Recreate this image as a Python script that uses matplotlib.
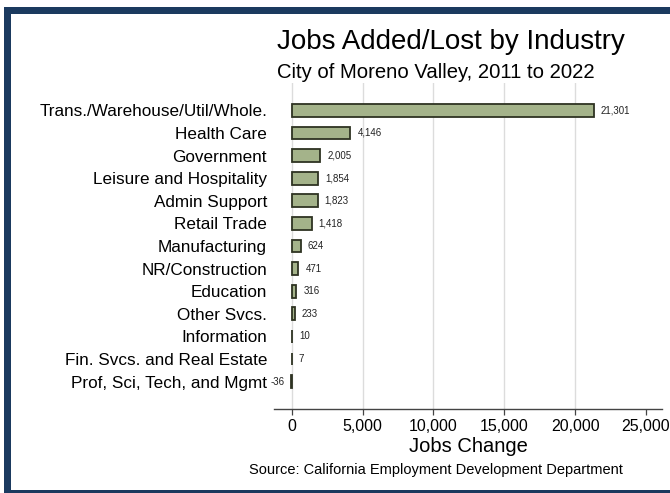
import matplotlib.pyplot as plt
from matplotlib.patches import Rectangle
from matplotlib.ticker import FuncFormatter

plt.rcParams['font.family'] = ['Liberation Sans', 'DejaVu Sans']

INDUSTRIES = [
    "Trans./Warehouse/Util/Whole.",
    "Health Care",
    "Government",
    "Leisure and Hospitality",
    "Admin Support",
    "Retail Trade",
    "Manufacturing",
    "NR/Construction",
    "Education",
    "Other Svcs.",
    "Information",
    "Fin. Svcs. and Real Estate",
    "Prof, Sci, Tech, and Mgmt",
]
JOBS_CHANGE = [21301, 4146, 2005, 1854, 1823, 1418, 624, 471, 316, 233, 10, 7, -36]
X_TICKS = [0, 5000, 10000, 15000, 20000, 25000]

BAR_COLOR = "#a4b38a"
EDGE_COLOR = "#2e3322"
BORDER_COLOR = "#1b3a5f"
GRID_COLOR = "#dcdcdc"

W, H = 670, 493


def px_x(x):
    return x / W


def px_y(y):
    # pixel row from top -> figure fraction from bottom
    return 1 - y / H


fig = plt.figure(figsize=(6.7, 4.93), dpi=100)
ax = fig.add_axes([px_x(274), px_y(409), px_x(662 - 274), (409 - 83) / H])

pos = list(range(len(INDUSTRIES)))
ax.barh(pos, JOBS_CHANGE, height=0.56, color=BAR_COLOR, edgecolor=EDGE_COLOR, linewidth=1.3, zorder=3)

# value labels next to bar ends
for p, v in zip(pos, JOBS_CHANGE):
    off = 7 if v >= 0 else -7
    ax.annotate(f"{v:,}", (v, p), xytext=(off * 0.72, 0), textcoords="offset points",
                ha="left" if v >= 0 else "right", va="center", fontsize=7, color="#222222")

ax.set_yticks(pos)
ax.set_yticklabels(INDUSTRIES, fontsize=12.3)
ax.tick_params(axis="y", length=0, pad=5)
ax.set_ylim(len(INDUSTRIES) - 1 + 1.21, -1.21)

ax.set_xlim(-1250, 26130)
ax.set_xticks(X_TICKS)
ax.xaxis.set_major_formatter(FuncFormatter(lambda v, _: f"{int(v):,}"))
ax.tick_params(axis="x", labelsize=11.5, length=4, width=0.9, color="#444444", pad=3)

ax.grid(axis="x", color=GRID_COLOR, linewidth=1, zorder=0)
ax.xaxis.get_gridlines()[-1].set_visible(False)
ax.set_axisbelow(True)

for side in ["top", "right", "left"]:
    ax.spines[side].set_visible(False)
ax.spines["bottom"].set_color("#444444")
ax.spines["bottom"].set_linewidth(1)

ax.set_xlabel("Jobs Change", fontsize=14.5, labelpad=2)

fig.text(px_x(277), px_y(42), "Jobs Added/Lost by Industry", fontsize=20, ha="left", va="center")
fig.text(px_x(277), px_y(73), "City of Moreno Valley, 2011 to 2022", fontsize=14.6, ha="left", va="center")
fig.text(px_x(436), px_y(470), "Source: California Employment Development Department",
         fontsize=10.5, ha="center", va="center")

# dark frame around the graphic
frame = [
    (4, 7, 7, H - 7),       # left band
    (4, 7, W - 4, 7),       # top band
    (4, 490, W - 4, 3),     # bottom band
]
for x, y, w, h in frame:
    fig.patches.append(Rectangle((px_x(x), px_y(y + h)), w / W, h / H, transform=fig.transFigure,
                                 facecolor=BORDER_COLOR, edgecolor="none", zorder=10))

fig.savefig("out.png", dpi=100)
